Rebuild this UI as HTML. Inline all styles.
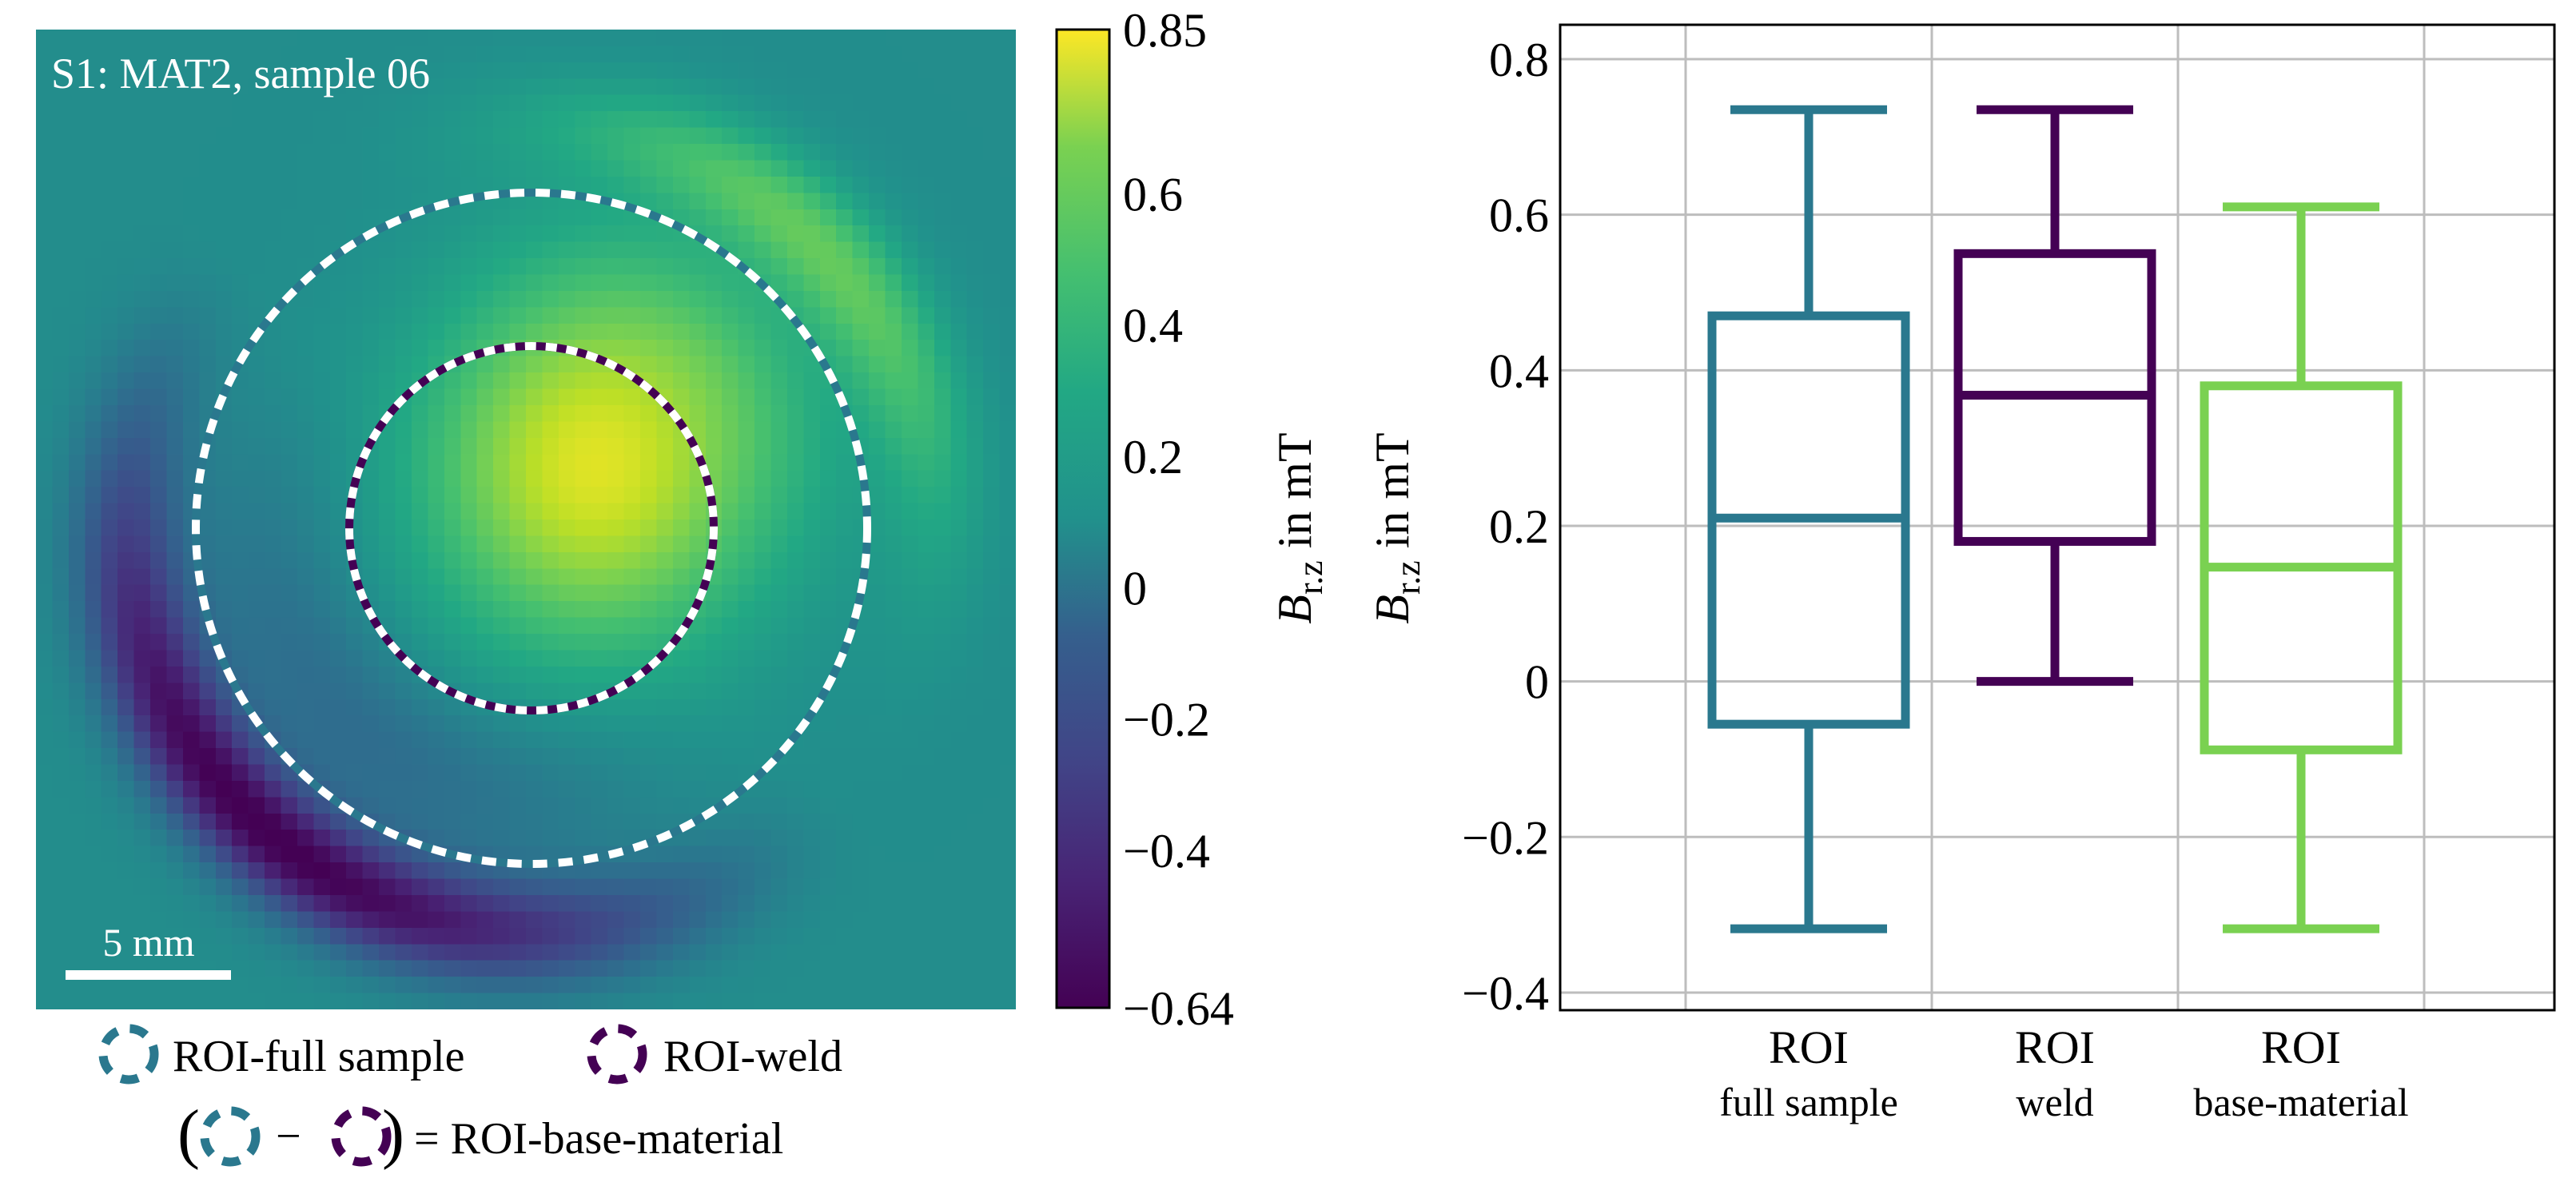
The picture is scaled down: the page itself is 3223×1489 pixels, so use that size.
<!DOCTYPE html>
<html><head><meta charset="utf-8">
<style>
html,body{margin:0;padding:0;background:#fff;}
body{width:3223px;height:1489px;position:relative;overflow:hidden;font-family:"Liberation Serif",serif;}
#heat{position:absolute;left:45px;top:37px;width:1226px;height:1226px;image-rendering:pixelated;}
#ov{position:absolute;left:0;top:0;}
text{font-family:"Liberation Serif",serif;}
</style></head>
<body>
<canvas id="heat" width="60" height="60"></canvas>
<svg id="ov" width="3223" height="1489" xmlns="http://www.w3.org/2000/svg">
 <defs>
  <linearGradient id="vir" x1="0" y1="1" x2="0" y2="0">
   <stop offset="0" stop-color="#440154"/><stop offset="0.13" stop-color="#482475"/>
   <stop offset="0.25" stop-color="#414487"/><stop offset="0.38" stop-color="#355f8d"/>
   <stop offset="0.5" stop-color="#21918c"/><stop offset="0.63" stop-color="#22a884"/>
   <stop offset="0.75" stop-color="#44bf70"/><stop offset="0.88" stop-color="#7ad151"/>
   <stop offset="1" stop-color="#fde725"/>
  </linearGradient>
 </defs>
 <g>
  <text x="64" y="110" font-size="54" fill="#fff">S1: MAT2, sample 06</text>
  <circle cx="665" cy="661" r="420" fill="none" stroke="#2a788e" stroke-width="10"/>
  <circle cx="665" cy="661" r="420" fill="none" stroke="#fff" stroke-width="10" stroke-dasharray="18 14"/>
  <circle cx="665" cy="661" r="228" fill="none" stroke="#440154" stroke-width="10"/>
  <circle cx="665" cy="661" r="228" fill="none" stroke="#fff" stroke-width="10" stroke-dasharray="14 12"/>
  <rect x="82" y="1214" width="207" height="12" fill="#fff"/>
  <text x="186" y="1196" font-size="50" fill="#fff" text-anchor="middle">5 mm</text>
 </g>
 <g>
  <rect x="1322" y="37" width="66" height="1224" fill="url(#vir)" stroke="#000" stroke-width="3"/>
  <g id="cbticks" font-size="60"></g>
 </g>
 <text transform="translate(1640,661) rotate(-90)" font-size="60" text-anchor="middle"><tspan font-style="italic">B</tspan><tspan font-size="44" dy="14">r.z</tspan><tspan dy="-14"> in mT</tspan></text>
 <text transform="translate(1762,661) rotate(-90)" font-size="60" text-anchor="middle"><tspan font-style="italic">B</tspan><tspan font-size="44" dy="14">r.z</tspan><tspan dy="-14"> in mT</tspan></text>
 <g font-size="56">
  <circle cx="161" cy="1319" r="32" fill="none" stroke="#2a788e" stroke-width="11" stroke-dasharray="22 16"/>
  <text x="216" y="1340">ROI-full sample</text>
  <circle cx="772" cy="1319" r="32" fill="none" stroke="#440154" stroke-width="11" stroke-dasharray="22 16"/>
  <text x="830" y="1340">ROI-weld</text>
  <text x="222" y="1446" font-size="84">(</text>
  <circle cx="288" cy="1422" r="32" fill="none" stroke="#2a788e" stroke-width="11" stroke-dasharray="22 16"/>
  <text x="345" y="1440">−</text>
  <circle cx="452" cy="1422" r="32" fill="none" stroke="#440154" stroke-width="11" stroke-dasharray="22 16"/>
  <text x="478" y="1446" font-size="84">)</text>
  <text x="518" y="1443">= ROI-base-material</text>
 </g>
 <g id="box"></g>
</svg>
<script>
// Box plot data
const categories = ["full sample", "weld", "base-material"];
const whiskerHigh = [0.735, 0.735, 0.61];
const q3 = [0.47, 0.55, 0.38];
const median = [0.21, 0.368, 0.147];
const q1 = [-0.055, 0.18, -0.088];
const whiskerLow = [-0.318, 0.0, -0.318];
const yTicks = [-0.4, -0.2, 0, 0.2, 0.4, 0.6, 0.8];
const yTickLabels = ["\u22120.4", "\u22120.2", "0", "0.2", "0.4", "0.6", "0.8"];
const cbTicks = [0.85, 0.6, 0.4, 0.2, 0, -0.2, -0.4, -0.64];
const cbTickLabels = ["0.85", "0.6", "0.4", "0.2", "0", "\u22120.2", "\u22120.4", "\u22120.64"];
const colors = ["#2a788e", "#440154", "#7ad151"];

const NS = "http://www.w3.org/2000/svg";
function mk(tag, attrs, parent) { const e = document.createElementNS(NS, tag); for (const k in attrs) e.setAttribute(k, attrs[k]); parent.appendChild(e); return e; }
const yS = v => 74 + (0.8 - v) * 973.3;
const xS = i => 2263 + 308 * i;
const cbS = v => 37 + (0.85 - v) / 1.49 * 1224;

const cb = document.getElementById('cbticks');
cbTicks.forEach((v, i) => {
  const t = mk('text', { x: 1405, y: cbS(v) + 21 }, cb);
  
  
  t.textContent = cbTickLabels[i];
});

const box = document.getElementById('box');
const L = 1952, R = 3196, T = 31, B = 1264;
for (let k = 0; k < 4; k++) {
  const g = mk('line', { x1: 2109 + 308 * k, x2: 2109 + 308 * k, y1: T, y2: B, stroke: '#bdbdbd', 'stroke-width': 3 }, box);
  
  
}
yTicks.forEach((v, i) => {
  const g = mk('line', { x1: L, x2: R, y1: yS(v), y2: yS(v), stroke: '#bdbdbd', 'stroke-width': 3 }, box);
  
  
  const t = mk('text', { x: 1938, y: yS(v) + 21, 'font-size': 60, 'text-anchor': 'end' }, box);
  
  
  t.textContent = yTickLabels[i];
});
const frame = mk('rect', { x: L, y: T, width: R - L, height: B - T, fill: 'none', stroke: '#000', 'stroke-width': 3 }, box);



categories.forEach((c, i) => {
  const x = xS(i), col = colors[i], sw = 11;
  const g = mk('g', { stroke: col, 'stroke-width': sw, fill: 'none' }, box);
  
  
  mk('line', { x1: x, x2: x, y1: yS(whiskerHigh[i]), y2: yS(q3[i]) }, g);
  mk('line', { x1: x, x2: x, y1: yS(q1[i]), y2: yS(whiskerLow[i]) }, g);
  mk('line', { x1: x - 98, x2: x + 98, y1: yS(whiskerHigh[i]), y2: yS(whiskerHigh[i]) }, g);
  mk('line', { x1: x - 98, x2: x + 98, y1: yS(whiskerLow[i]), y2: yS(whiskerLow[i]) }, g);
  mk('rect', { x: x - 121, y: yS(q3[i]), width: 242, height: yS(q1[i]) - yS(q3[i]) }, g);
  mk('line', { x1: x - 121, x2: x + 121, y1: yS(median[i]), y2: yS(median[i]) }, g);
  const t1 = mk('text', { x: x, y: 1330, 'font-size': 58, 'text-anchor': 'middle' }, box);
  
  
  t1.textContent = 'ROI';
  const t2 = mk('text', { x: x, y: 1396, 'font-size': 50, 'text-anchor': 'middle' }, box);
  
  
  t2.textContent = c;
});

// Heatmap image (approximate field rendering)
const vir = [[68,1,84],[72,36,117],[65,68,135],[53,95,141],[42,120,142],[33,145,140],[34,168,132],[68,191,112],[122,209,81],[189,223,38],[253,231,37]];
function cmap(t) { t = Math.max(0, Math.min(1, t)) * 10; const i = Math.min(9, Math.floor(t)), f = t - i; return vir[i].map((a, k) => Math.round(a + (vir[i + 1][k] - a) * f)); }
const cv = document.getElementById('heat'), ctx = cv.getContext('2d');
const img = ctx.createImageData(60, 60);
for (let j = 0; j < 60; j++) for (let i = 0; i < 60; i++) {
  const px = (i + 0.5) * 1226 / 60, py = (j + 0.5) * 1226 / 60;
  const dx = px - 620, dy = py - 624, r = Math.hypot(dx, dy), th = Math.atan2(dy, dx);
  let v = 0.08;
  v += 0.7 * Math.exp(-(((px - 700) / 210) ** 2 + ((py - 545) / 230) ** 2));
  const neg = Math.max(0, Math.cos(th - 2.3)) ** 1.3;
  const pos = Math.max(0, Math.cos(th + 0.75)) ** 3;
  const ring = Math.exp(-(((r - 505) / 70) ** 2));
  v += ring * (-0.72 * neg + 0.38 * pos);
  const inner = Math.exp(-(((r - 330) / 110) ** 2));
  v += inner * (-0.2 * neg + 0.1 * pos);
  const c = cmap((v + 0.64) / 1.49), o = (j * 60 + i) * 4;
  img.data[o] = c[0]; img.data[o + 1] = c[1]; img.data[o + 2] = c[2]; img.data[o + 3] = 255;
}
ctx.putImageData(img, 0, 0);
</script>
</body></html>
